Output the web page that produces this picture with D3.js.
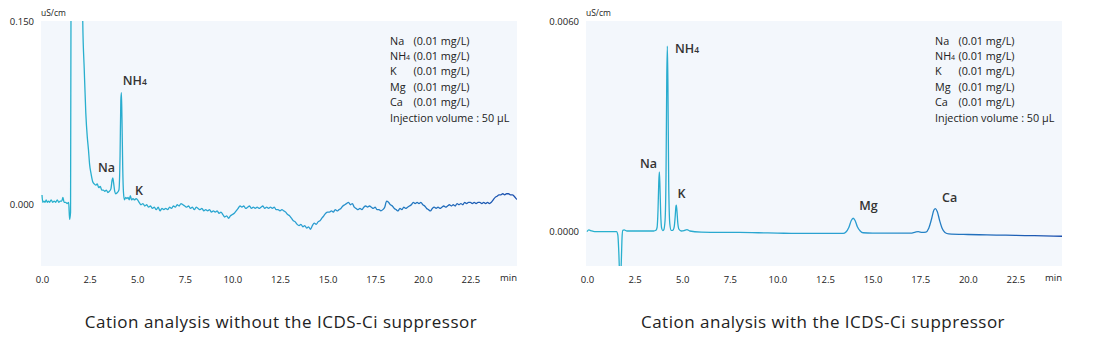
<!DOCTYPE html>
<html><head><meta charset="utf-8">
<script src="https://cdn.jsdelivr.net/npm/d3@7"></script>
<style>
html,body{margin:0;padding:0;background:#fff;}
svg{display:block;}
text{font-family:"Open Sans","Noto Sans",sans-serif;}
</style></head>
<body><svg id="c" width="1105" height="347"></svg>
<script>
// ---------- DATA ----------
const xTicks = [0, 2.5, 5, 7.5, 10, 12.5, 15, 17.5, 20, 22.5];
const xUnit = "min";
const yUnit = "uS/cm";
const leftYTicks = [0, 0.15];
const rightYTicks = [0, 0.006];

const leftTime = [0,0.04,0.10,0.16,0.22,0.28,0.34,0.40,0.48,0.56,0.64,0.72,0.80,0.88,0.96,1.04,1.10,1.16,1.24,1.32,1.40,1.45,1.50,1.54,1.60,2.00,2.10,2.14,2.22,2.30,2.38,2.44,2.50,2.58,2.66,2.74,2.82,2.90,2.98,3.06,3.14,3.22,3.30,3.38,3.46,3.54,3.62,3.68,3.72,3.76,3.82,3.88,3.96,4.04,4.10,4.14,4.17,4.20,4.24,4.28,4.33,4.40,4.46,4.52,4.58,4.64,4.70,4.78,4.86,4.94,5.02,5.10,5.20,5.30,5.40,5.50,5.60,5.70,5.80,5.90,6.00,6.10,6.20,6.30,6.40,6.50,6.60,6.70,6.80,6.90,7.00,7.10,7.20,7.30,7.40,7.50,7.60,7.70,7.80,7.90,8.00,8.10,8.20,8.30,8.40,8.50,8.60,8.70,8.80,8.90,9.00,9.10,9.20,9.30,9.40,9.50,9.60,9.70,9.80,9.90,10.00,10.10,10.20,10.30,10.40,10.50,10.60,10.70,10.80,10.90,11.00,11.10,11.20,11.30,11.40,11.50,11.60,11.70,11.80,11.90,12.00,12.10,12.20,12.30,12.40,12.50,12.60,12.70,12.80,12.90,13.00,13.10,13.20,13.30,13.40,13.50,13.60,13.70,13.80,13.90,14.00,14.10,14.20,14.30,14.40,14.50,14.60,14.70,14.80,14.90,15.00,15.10,15.20,15.30,15.40,15.50,15.60,15.70,15.80,15.90,16.00,16.10,16.20,16.30,16.40,16.50,16.60,16.70,16.80,16.90,17.00,17.10,17.20,17.30,17.40,17.50,17.60,17.70,17.80,17.90,18.00,18.10,18.20,18.30,18.40,18.50,18.60,18.70,18.80,18.90,19.00,19.10,19.20,19.30,19.40,19.50,19.60,19.70,19.80,19.90,20.00,20.10,20.20,20.30,20.40,20.50,20.60,20.70,20.80,20.90,21.00,21.10,21.20,21.30,21.40,21.50,21.60,21.70,21.80,21.90,22.00,22.10,22.20,22.30,22.40,22.50,22.60,22.70,22.80,22.90,23.00,23.10,23.20,23.30,23.40,23.50,23.60,23.70,23.80,23.90,24.00,24.10,24.20,24.30,24.40,24.50,24.60,24.70,24.80,24.90,25.00];
const leftSignal = [0.008,0.002,0.003,0.002,0.004,0.002,0.003,0.002,0.004,0.002,0.003,0.002,0.004,0.002,0.003,0.003,0.006,0.002,0.002,0.001,0.002,-0.012,-0.006,0.30,0.40,0.40,0.20,0.15,0.11,0.075,0.055,0.045,0.033,0.025,0.019,0.017,0.016,0.017,0.014,0.015,0.012,0.012,0.011,0.012,0.010,0.011,0.013,0.020,0.022,0.018,0.011,0.009,0.010,0.012,0.040,0.085,0.0915,0.070,0.030,0.010,0.004,0.006,0.005,0.006,0.004,0.0075,0.004,0.005,0.004,0.005,0.004,0.002,0.000,0.001,-0.001,0.000,-0.002,-0.001,-0.003,-0.002,-0.004,-0.002,-0.005,-0.003,-0.004,-0.003,-0.004,-0.002,-0.003,-0.001,-0.002,0.000,-0.001,0.001,0.000,-0.001,-0.002,-0.001,-0.003,-0.002,-0.004,-0.002,-0.003,-0.004,-0.003,-0.005,-0.004,-0.005,-0.004,-0.006,-0.005,-0.006,-0.005,-0.007,-0.006,-0.008,-0.010,-0.009,-0.011,-0.009,-0.008,-0.007,-0.005,-0.003,-0.001,-0.002,-0.001,-0.003,-0.002,-0.001,-0.003,-0.002,-0.003,-0.002,-0.003,-0.002,-0.001,-0.003,-0.002,-0.003,-0.002,-0.003,-0.002,-0.004,-0.004,-0.005,-0.004,-0.005,-0.006,-0.008,-0.009,-0.011,-0.013,-0.014,-0.016,-0.017,-0.016,-0.018,-0.017,-0.019,-0.018,-0.020,-0.017,-0.015,-0.016,-0.014,-0.013,-0.011,-0.009,-0.007,-0.006,-0.006,-0.005,-0.006,-0.004,-0.005,-0.004,-0.003,-0.001,0.000,0.001,0.002,0.000,0.001,-0.002,-0.003,-0.004,-0.003,-0.004,-0.002,-0.001,-0.002,-0.001,-0.002,-0.003,-0.002,-0.004,-0.004,-0.005,-0.004,-0.002,0.003,0.002,0.000,-0.001,-0.003,-0.004,-0.005,-0.003,-0.004,-0.002,-0.003,-0.002,-0.001,0.000,0.002,0.001,0.002,0.001,0.002,0.000,-0.001,-0.003,-0.004,-0.005,-0.003,-0.002,-0.003,-0.002,-0.003,-0.002,-0.001,-0.002,-0.001,0.000,-0.001,0.000,-0.001,0.001,0.000,0.001,0.000,0.002,0.001,0.002,0.002,0.001,0.002,0.001,0.002,0.002,0.001,0.002,0.001,0.002,0.001,0.002,0.004,0.006,0.007,0.008,0.008,0.009,0.008,0.009,0.009,0.008,0.008,0.007,0.005,0.004];

const rightTime = [0.00,0.10,0.20,0.40,0.80,1.20,1.55,1.62,1.67,1.72,1.76,1.80,1.84,1.88,1.95,2.10,2.50,3.00,3.50,3.62,3.68,3.73,3.77,3.80,3.83,3.87,3.92,3.98,4.03,4.10,4.15,4.19,4.22,4.25,4.29,4.35,4.42,4.50,4.58,4.63,4.67,4.69,4.72,4.77,4.83,4.95,5.10,5.25,5.40,6.00,7.00,8.00,9.00,10.00,11.00,12.00,13.00,13.45,13.60,13.75,13.88,13.98,14.08,14.20,14.35,14.50,15.00,16.00,17.00,17.25,17.40,17.60,17.80,17.95,18.10,18.22,18.30,18.40,18.52,18.65,18.80,19.00,20.00,21.00,22.00,23.00,24.00,25.00];
const rightSignal = [-0.00002,0.00003,0.00001,-0.00002,-0.00002,-0.00002,-0.00002,-0.00012,-0.0006,-0.0013,-0.0014,-0.0009,-0.0002,0.00002,0.00003,0.0,0.0,0.0,0.0,0.00002,0.0001,0.0006,0.0014,0.00169,0.0013,0.0005,0.00008,0.00001,0.00003,0.0003,0.0016,0.0044,0.00528,0.0042,0.0014,0.0002,0.00002,0.00002,0.00012,0.0004,0.0007,0.00074,0.0006,0.00022,0.00005,0.0,0.00001,0.00004,0.0,-0.00003,-0.00004,-0.00004,-0.00005,-0.00006,-0.00007,-0.00007,-0.00007,-0.00007,-0.00003,0.00010,0.00030,0.000365,0.00030,0.00012,0.0,-0.00005,-0.00006,-0.00006,-0.00006,-0.00003,-0.00002,-0.00004,-0.00003,0.00008,0.00035,0.00060,0.00064,0.00055,0.00030,0.00008,-0.00004,-0.00008,-0.00010,-0.00011,-0.00012,-0.00013,-0.00014,-0.00015];

const peakLabelsLeft = [
  {name:"Na", t:2.94, v:0.027},
  {name:"NH", sub:"4", t:4.24, v:0.098},
  {name:"K", t:4.88, v:0.0082}
];
const peakLabelsRight = [
  {name:"Na", t:2.78, v:0.00181},
  {name:"NH", sub:"4", t:4.62, v:0.00508},
  {name:"K", t:4.75, v:0.00095},
  {name:"Mg", t:14.3, v:0.0006},
  {name:"Ca", t:18.65, v:0.00083}
];
const legendIons = [["Na",""],["NH","4"],["K",""],["Mg",""],["Ca",""]];
const legendConc = "(0.01 mg/L)";
const legendInjection = "Injection volume : 50 µL";
const captions = ["Cation analysis without the ICDS-Ci suppressor","Cation analysis with the ICDS-Ci suppressor"];

// ---------- DRAW ----------
const svg = d3.select("#c");
const W = 476, H = 245, TOP = 21;

function panel(idx, left, times, values, yDomain, yTicks, yFmt, labels) {
  const g = svg.append("g").attr("transform", `translate(${left},${TOP})`);
  const x = d3.scaleLinear().domain([0, 25]).range([1, W + 1]);
  const y = d3.scaleLinear().domain(yDomain).range([H, 0]);

  g.append("rect").attr("width", W).attr("height", H).attr("fill", "#f3f7fc");

  const clipId = "clip" + idx;
  g.append("clipPath").attr("id", clipId).append("rect").attr("width", W).attr("height", H);

  const gradId = "grad" + idx;
  const grad = svg.append("defs").append("linearGradient").attr("id", gradId)
    .attr("gradientUnits", "userSpaceOnUse").attr("x1", 0).attr("x2", W).attr("y1", 0).attr("y2", 0);
  grad.append("stop").attr("offset", "0").attr("stop-color", "#28b2cd");
  grad.append("stop").attr("offset", "0.55").attr("stop-color", "#2a9fd2");
  grad.append("stop").attr("offset", "1").attr("stop-color", "#1b4fae");

  const pts = times.map((t, i) => [t, values[i]]);
  const line = d3.line().x(d => x(d[0])).y(d => y(d[1])).curve(d3.curveMonotoneX);
  g.append("path").attr("clip-path", `url(#${clipId})`).datum(pts).attr("d", line)
    .attr("fill", "none").attr("stroke", `url(#${gradId})`).attr("stroke-width", 1.3)
    .attr("stroke-linejoin", "round");

  // x axis
  const xa = g.append("g").attr("transform", `translate(0,${H})`)
    .call(d3.axisBottom(x).tickValues(xTicks).tickSize(0).tickPadding(10).tickFormat(d3.format(".1f")));
  xa.select(".domain").remove();
  xa.selectAll("text").attr("font-size", 9.5).attr("fill", "#222").attr("font-family", "'Open Sans',sans-serif");
  g.append("text").attr("x", W).attr("y", H + 15).attr("text-anchor", "end")
    .attr("font-size", 9.5).attr("fill", "#222").text(xUnit);

  // y axis
  const ya = g.append("g").call(d3.axisLeft(y).tickValues(yTicks).tickSize(0).tickPadding(7).tickFormat(yFmt));
  ya.select(".domain").remove();
  ya.selectAll("text").attr("font-size", 9.5).attr("fill", "#222").attr("font-family", "'Open Sans',sans-serif");
  g.append("text").attr("x", 0).attr("y", -5).attr("font-size", 8.5).attr("fill", "#222").text(yUnit);

  // peak labels
  labels.forEach(p => {
    const t = g.append("text").attr("x", x(p.t)).attr("y", y(p.v))
      .attr("font-size", 12.5).attr("font-weight", 600).attr("fill", "#333").text(p.name);
    if (p.sub) t.append("tspan").attr("font-size", 8.5).text(p.sub);
  });

  // legend
  const lg = g.append("g").attr("transform", `translate(${349},0)`);
  legendIons.forEach((ion, i) => {
    const t = lg.append("text").attr("x", 0).attr("y", 23.5 + i * 15.4).attr("font-size", 10.8).attr("fill", "#222").text(ion[0]);
    if (ion[1]) t.append("tspan").attr("font-size", 7).text(ion[1]);
    lg.append("text").attr("x", 23.5).attr("y", 23.5 + i * 15.4).attr("font-size", 10.8).attr("fill", "#222").text(legendConc);
  });
  lg.append("text").attr("x", 0).attr("y", 23.5 + 5 * 15.4).attr("font-size", 10.8).attr("fill", "#222").text(legendInjection);

  svg.append("text").attr("x", left + W / 2 + (idx === 0 ? 2 : -1)).attr("y", 328).attr("text-anchor", "middle")
    .attr("font-size", 17).attr("letter-spacing", 0.5).attr("fill", "#222").attr("font-family", "'Noto Sans','Open Sans',sans-serif")
    .text(captions[idx]);
}

panel(0, 41, leftTime, leftSignal, [-0.05, 0.15], leftYTicks, d3.format(".3f"), peakLabelsLeft);
panel(1, 586, rightTime, rightSignal, [-0.001, 0.006], rightYTicks, d3.format(".4f"), peakLabelsRight);
</script></body></html>
